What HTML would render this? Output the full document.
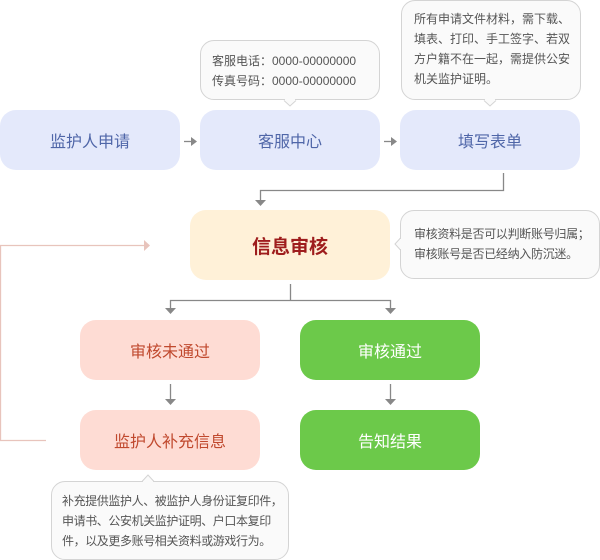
<!DOCTYPE html>
<html><head><meta charset="utf-8"><style>
body{margin:0;width:600px;height:560px;position:relative;background:#fff;font-family:"Liberation Sans","Noto Sans CJK SC",sans-serif;overflow:hidden}
.b{position:absolute;border-radius:16px;display:flex;align-items:center;justify-content:center;font-size:16px}
.blue{background:#e4e9fb;color:#4f66a8}
.pink{background:#fedcd4;color:#c0492e}
.green{background:#6cc94a;color:#fff}
.t{position:absolute;background:#fafafa;border:1px solid #d4d4d4;border-radius:14px;font-size:12px;color:#555;line-height:20px;box-sizing:border-box;white-space:nowrap}
svg{position:absolute;left:0;top:0}
</style></head><body>
<div class="b blue" style="left:0;top:110px;width:180px;height:60px">监护人申请</div>
<div class="b blue" style="left:200px;top:110px;width:180px;height:60px">客服中心</div>
<div class="b blue" style="left:400px;top:110px;width:180px;height:60px">填写表单</div>
<div class="b" style="left:190px;top:210px;width:200px;height:70px;background:#fff1d8;color:#9e1d1d;font-weight:bold;font-size:19px">信息审核</div>
<div class="b pink" style="left:80px;top:320px;width:180px;height:60px">审核未通过</div>
<div class="b green" style="left:300px;top:320px;width:180px;height:60px">审核通过</div>
<div class="b pink" style="left:80px;top:410px;width:180px;height:60px">监护人补充信息</div>
<div class="b green" style="left:300px;top:410px;width:180px;height:60px">告知结果</div>
<div class="t" style="left:200px;top:40px;width:180px;height:60px;padding:10px 0 0 11px">客服电话：0000-00000000<br>传真号码：0000-00000000</div>
<div class="t" style="left:401px;top:0;width:180px;height:100px;padding:8px 0 0 12px">所有申请文件材料，需下载、<br>填表、打印、手工签字、若双<br>方户籍不在一起，需提供公安<br>机关监护证明。</div>
<div class="t" style="left:400px;top:210px;width:200px;height:69px;padding:13px 0 0 13px;letter-spacing:-0.3px">审核资料是否可以判断账号归属；<br>审核账号是否已经纳入防沉迷。</div>
<div class="t" style="left:51px;top:481px;width:238px;height:79px;padding:9px 0 0 10px;letter-spacing:-0.4px">补充提供监护人、被监护人身份证复印件，<br>申请书、公安机关监护证明、户口本复印<br>件，以及更多账号相关资料或游戏行为。</div>
<svg width="600" height="560">
<g fill="#fafafa" stroke="#d4d4d4">
<path d="M284 100.5 L290 106 L296 100.5"/>
<path d="M484 100.5 L490 106 L496 100.5"/>
<path d="M400.5 238 L395 244 L400.5 250"/>
<path d="M142 481.5 L148 475 L154 481.5"/>
</g>
<g fill="#fafafa"><rect x="285" y="98" width="10" height="3"/><rect x="485" y="98" width="10" height="3"/><rect x="400" y="239" width="3" height="10"/><rect x="143" y="481" width="10" height="3"/></g>
<g stroke="#888" stroke-width="1.3" fill="none">
<path d="M184 141.5H192"/><path d="M384 141.5H392"/>
<path d="M503.5 173V190.5H260.5V200"/>
<path d="M290.5 284V300.5"/>
<path d="M170.5 309V300.5H390.5V309"/>
<path d="M170.5 384V399M390.5 384V399"/>
</g>
<g fill="#888">
<path d="M191 137L197 141.5L191 146Z"/><path d="M391 137L397 141.5L391 146Z"/>
<path d="M255 200H266L260.5 206Z"/>
<path d="M165 308H176L170.5 314Z"/><path d="M385 308H396L390.5 314Z"/>
<path d="M165 399H176L170.5 405Z"/><path d="M385 399H396L390.5 405Z"/>
</g>
<g stroke="#e8c4bc" stroke-width="1.3" fill="none"><path d="M46 440.5H0.5V245.5H144"/></g>
<path d="M144 240L150 245.5L144 251Z" fill="#e8c4bc"/>
</svg>
</body></html>
